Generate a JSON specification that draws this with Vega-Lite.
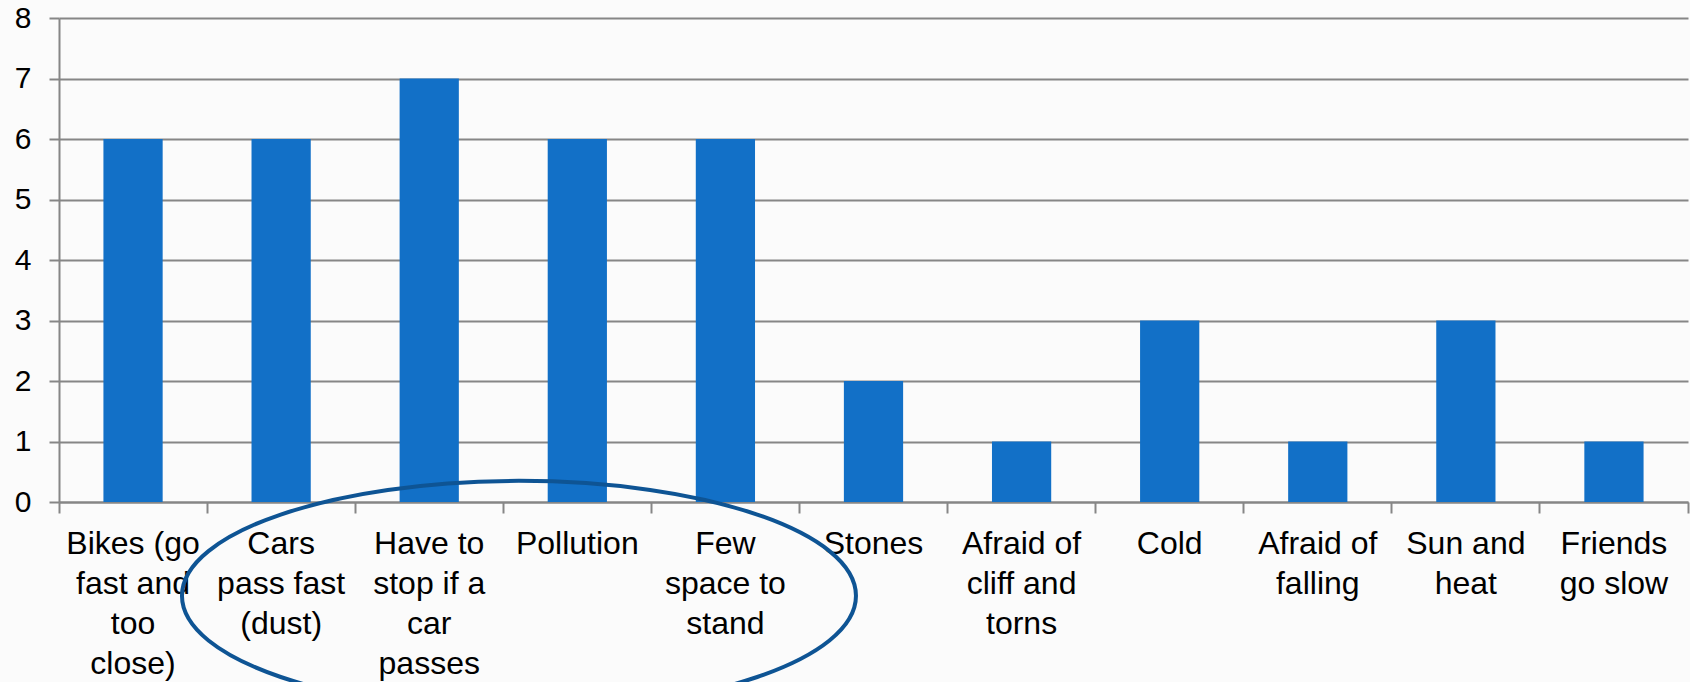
{
  "$schema": "https://vega.github.io/schema/vega-lite/v6.json",
  "width": 1629,
  "height": 484,
  "autosize": {"type": "none"},
  "padding": {"left": 59, "top": 18, "right": 2, "bottom": 180},
  "background": "#fbfbfb",
  "config": {"view": {"stroke": null}, "font": "Liberation Sans"},
  "datasets": {
    "bars": [
      {"category": "Bikes (go\nfast and\ntoo\nclose)", "value": 6},
      {"category": "Cars\npass fast\n(dust)", "value": 6},
      {"category": "Have to\nstop if a\ncar\npasses", "value": 7},
      {"category": "Pollution", "value": 6},
      {"category": "Few\nspace to\nstand", "value": 6},
      {"category": "Stones", "value": 2},
      {"category": "Afraid of\ncliff and\ntorns", "value": 1},
      {"category": "Cold", "value": 3},
      {"category": "Afraid of\nfalling", "value": 1},
      {"category": "Sun and\nheat", "value": 3},
      {"category": "Friends\ngo slow", "value": 1}
    ],
    "note": [{"category": "Pollution", "value": -1.55}]
  },
  "layer": [
    {
      "data": {"name": "bars"},
      "mark": {"type": "bar", "width": {"band": 0.4}, "color": "#1270C7"},
      "encoding": {
        "x": {
          "field": "category", "type": "nominal", "sort": null,
          "scale": {"paddingInner": 0, "paddingOuter": 0},
          "axis": {
            "orient": "bottom", "title": null, "labelAngle": 0, "ticks": false, "tickSize": 0,
            "domain": false, "grid": false, "labelPadding": 26, "labelFont": "Liberation Sans",
            "labelFontSize": 32, "labelColor": "#000000", "labelLineHeight": 40,
            "labelBaseline": "top", "labelAlign": "center", "labelLimit": 0, "labelOverlap": false,
            "labelExpr": "split(datum.value, '\\n')"
          }
        },
        "y": {
          "field": "value", "type": "quantitative",
          "scale": {"domain": [0, 8], "nice": false, "zero": true},
          "axis": {
            "title": null, "values": [0,1,2,3,4,5,6,7,8], "format": "d", "grid": true, "gridColor": "#868686", "gridWidth": 2,
            "domain": true, "domainColor": "#868686", "domainWidth": 2,
            "ticks": true, "tickSize": 10, "tickColor": "#868686", "tickWidth": 2,
            "labelPadding": 18, "labelFont": "Liberation Sans", "labelFontSize": 30, "labelColor": "#000000"
          }
        }
      }
    },
    {
      "data": {"name": "bars"},
      "mark": {"type": "bar", "opacity": 0},
      "encoding": {
        "x": {
          "field": "category", "type": "nominal", "sort": null,
          "axis": {
            "orient": "bottom", "title": null, "labels": false, "bandPosition": 1, "tickExtra": true,
            "ticks": true, "tickSize": 11, "tickColor": "#868686", "tickWidth": 2,
            "domain": true, "domainColor": "#868686", "domainWidth": 2, "grid": false
          }
        }
      }
    },
    {
      "data": {"name": "note"},
      "mark": {
        "type": "point",
        "shape": "M -1 0 C -1 -0.188 -0.552 -0.341 0 -0.341 C 0.552 -0.341 1 -0.188 1 0 C 1 0.188 0.552 0.341 0 0.341 C -0.552 0.341 -1 0.188 -1 0 Z",
        "size": 454276, "filled": false, "stroke": "#0E5494", "strokeWidth": 4, "opacity": 1, "clip": false
      },
      "encoding": {
        "x": {"field": "category", "type": "nominal", "sort": null, "bandPosition": 0.106, "axis": null},
        "y": {"field": "value", "type": "quantitative", "scale": {"domain": [0, 8], "nice": false}}
      }
    }
  ],
  "resolve": {"axis": {"x": "independent"}}
}
